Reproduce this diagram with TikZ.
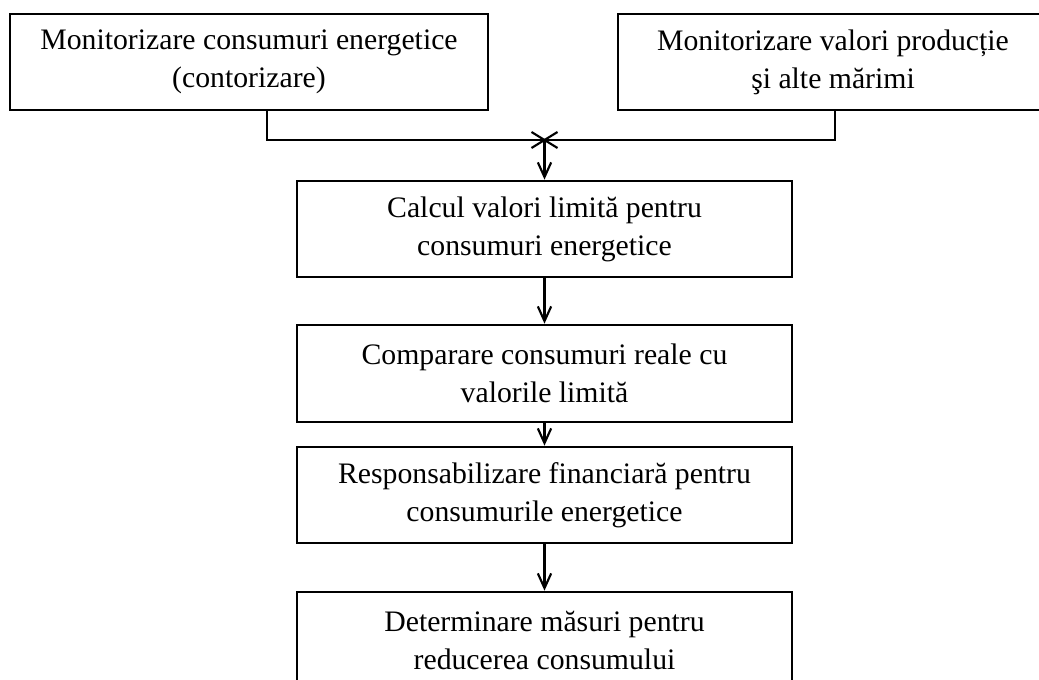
\documentclass[tikz,border=0pt]{standalone}
\usepackage{fontspec}
\setmainfont{Liberation Serif}
\usetikzlibrary{arrows.meta,calc}
\tikzset{
  box/.style={draw, line width=2pt, align=center, inner sep=0pt,
    font=\fontsize{22.3}{28.5}\selectfont},
  conn/.style={line width=1.6pt},
  arr/.style={conn, -{Straight Barb[length=11pt,width=10pt,line width=1.6pt]}}
}
\begin{document}
\begin{tikzpicture}[x=0.75pt,y=-0.75pt]
\useasboundingbox (0,0) rectangle (1039,680);
\node[box, minimum width=358.5pt, minimum height=72pt] (L) at (249,62)
  {Monitorizare consumuri energetice\\(contorizare)};
\node[box, minimum width=322.5pt, minimum height=72pt] (R) at (833,62)
  {Monitorizare valori producție\\şi alte mărimi};
\node[box, minimum width=371.25pt, minimum height=72pt] (C1) at (544.5,229)
  {Calcul valori limită pentru\\consumuri energetice};
\node[box, minimum width=371.25pt, minimum height=72.75pt] (C2) at (544.5,373.5)
  {Comparare consumuri reale cu\\valorile limită};
\node[box, minimum width=371.25pt, minimum height=72pt] (C3) at (544.5,495)
  {Responsabilizare financiară pentru\\consumurile energetice};
\node[box, minimum width=371.25pt, minimum height=72pt] (C4) at (544.5,640)
  {Determinare măsuri pentru\\reducerea consumului};
\coordinate (jl) at (267,140);
\coordinate (jr) at (835,140);
\coordinate (j) at (544.5,140);
\draw[conn] (jl |- L.south) -- (jl) -- (jr) -- (jr |- R.south);
\draw[conn] ($(j)+(-13,-8)$) -- ($(j)+(13,8)$);
\draw[conn] ($(j)+(13,-8)$) -- ($(j)+(-13,8)$);
\draw[arr] (j) -- (C1.north);
\draw[arr] (C1) -- (C2);
\draw[arr] (C2) -- (C3);
\draw[arr] (C3) -- (C4);
\end{tikzpicture}
\end{document}
